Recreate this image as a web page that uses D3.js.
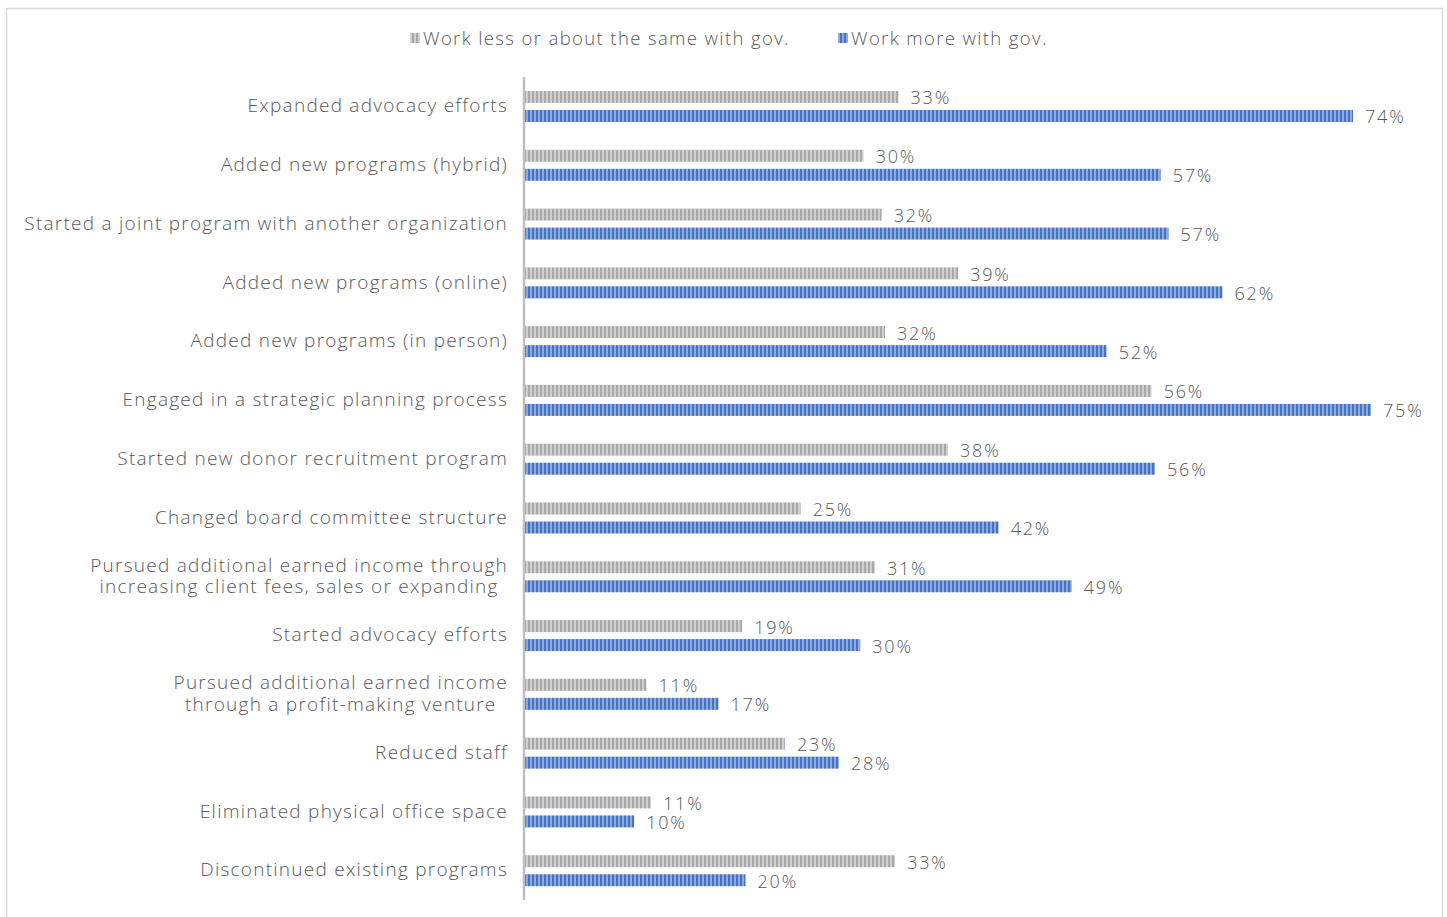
<!DOCTYPE html>
<html>
<head>
<meta charset="utf-8">
<script src="https://cdn.jsdelivr.net/npm/d3@7"></script>
<style>
  body { margin: 0; background: #fff; }
  svg text { font-family: "Open Sans", "DejaVu Sans", sans-serif; font-weight: 300; fill: #595959; }
</style>
</head>
<body>
<div id="chart"></div>
<script>
// Changes made by organisations, split by how much they work with government

var categories = [
    "Expanded advocacy efforts",
    "Added new programs (hybrid)",
    "Started a joint program with another organization",
    "Added new programs (online)",
    "Added new programs (in person)",
    "Engaged in a strategic planning process",
    "Started new donor recruitment program",
    "Changed board committee structure",
    "Pursued additional earned income through|increasing client fees, sales or expanding",
    "Started advocacy efforts",
    "Pursued additional earned income|through a profit-making venture",
    "Reduced staff",
    "Eliminated physical office space",
    "Discontinued existing programs"
];

var seriesNames = ["Work less or about the same with gov.", "Work more with gov."];

// values in percent
var lessSame = [33.2, 30.1, 31.7, 38.5, 32.0, 55.7, 37.6, 24.5, 31.1, 19.3, 10.8, 23.1, 11.2, 32.9];
var more     = [73.6, 56.5, 57.2, 62.0, 51.7, 75.2, 56.0, 42.1, 48.6, 29.8, 17.2, 27.9,  9.7, 19.6];

var data = categories.map(function(c, i) {
    return { name: c, vals: [lessSame[i], more[i]] };
});

var width = 1447, height = 917;
var margin = { left: 525, top: 77, bottom: 17 };

var svg = d3.select("#chart").append("svg")
    .attr("width", width)
    .attr("height", height);

// outer frame
svg.append("rect")
    .attr("x", 6.5).attr("y", 8.5)
    .attr("width", 1436).attr("height", 920)
    .attr("fill", "none")
    .attr("stroke", "#d9d9d9")
    .attr("stroke-width", 1.5);

// stripe patterns
var defs = svg.append("defs");
var patterns = [
    { id: "pat-gray", base: "#d0d0d0", stripe: "#a9a9a9" },
    { id: "pat-blue", base: "#8eaadc", stripe: "#4472c4" }
];
patterns.forEach(function(p) {
    var pat = defs.append("pattern")
        .attr("id", p.id)
        .attr("patternUnits", "userSpaceOnUse")
        .attr("width", 4).attr("height", 4);
    pat.append("rect").attr("width", 4).attr("height", 4).attr("fill", p.base);
    pat.append("rect").attr("width", 2).attr("height", 4).attr("fill", p.stripe);
});
var fills = ["url(#pat-gray)", "url(#pat-blue)"];

// scales
var x = d3.scaleLinear()
    .domain([0, 80])
    .range([margin.left, margin.left + 80 * 11.25]);

var y = d3.scaleBand()
    .domain(d3.range(categories.length))
    .range([margin.top, height - margin.bottom]);

var ySub = d3.scaleBand()
    .domain([0, 1])
    .range([-15.4, 15.6])
    .paddingInner(0.37);

// bars
var groups = svg.selectAll(".group")
    .data(data)
    .enter().append("g")
    .attr("class", "group")
    .attr("transform", function(d, i) { return "translate(0," + (y(i) + y.bandwidth() / 2) + ")"; });

groups.selectAll(".bar")
    .data(function(d) { return d.vals; })
    .enter().append("rect")
    .attr("class", "bar")
    .attr("x", x(0))
    .attr("y", function(d, j) { return ySub(j); })
    .attr("width", function(d) { return x(d) - x(0); })
    .attr("height", ySub.bandwidth())
    .attr("fill", function(d, j) { return fills[j]; });

groups.selectAll(".val")
    .data(function(d) { return d.vals; })
    .enter().append("text")
    .attr("class", "val")
    .attr("x", function(d) { return x(d) + 12; })
    .attr("y", function(d, j) { return ySub(j) + ySub.bandwidth() / 2 + 1; })
    .attr("dy", "0.36em")
    .style("font-size", "18px")
    .style("letter-spacing", "1.8px")
    .text(function(d) { return Math.round(d) + "%"; });

// category labels
groups.each(function(d) {
    var g = d3.select(this);
    var lines = d.name.split("|");
    var t = g.append("text")
        .attr("class", "cat")
        .style("font-size", "19px")
        .style("letter-spacing", "1.25px");
    lines.forEach(function(l, k) {
        t.append("tspan")
            .attr("x", 0)
            .attr("y", (k - (lines.length - 1) / 2) * 21.5 - 1)
            .attr("dy", "0.36em")
            .text(l);
    });
    if (lines.length === 1) {
        t.attr("text-anchor", "end").selectAll("tspan").attr("x", 508);
    } else {
        var w = d3.max(t.selectAll("tspan").nodes(), function(n) { return n.getComputedTextLength(); });
        t.attr("text-anchor", "middle").selectAll("tspan").attr("x", 508 - w / 2);
    }
});

// axis line
svg.append("line")
    .attr("x1", x(0) - 1).attr("x2", x(0) - 1)
    .attr("y1", margin.top).attr("y2", height - margin.bottom)
    .attr("stroke", "#bfbfbf")
    .attr("stroke-width", 2.5);

// legend
var legend = svg.append("g").attr("class", "legend");
var legX = [410, 838];
seriesNames.forEach(function(s, i) {
    legend.append("rect")
        .attr("x", legX[i]).attr("y", 33)
        .attr("width", 10).attr("height", 10)
        .attr("fill", fills[i]);
    legend.append("text")
        .attr("x", legX[i] + 13).attr("y", 38)
        .attr("dy", "0.36em")
        .style("font-size", "18.5px")
        .style("letter-spacing", "1.38px")
        .text(s);
});
</script>
</body>
</html>
